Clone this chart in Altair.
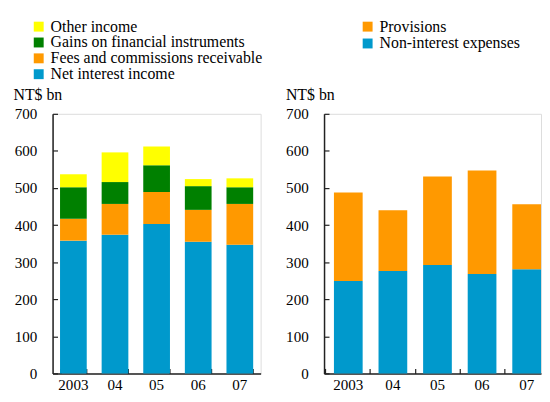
import altair as alt
import pandas as pd

years = ["2003", "04", "05", "06", "07"]

# Left panel: income components (NT$ bn)
net_interest_income = [358, 374, 403, 355, 347]
fees_commissions = [59, 83, 86, 86, 110]
gains_fin_instr = [85, 59, 72, 64, 45]
other_income = [35, 80, 51, 19, 24]

# Right panel: expenses (NT$ bn)
non_interest_expenses = [249, 276, 292, 268, 281]
provisions = [239, 164, 239, 279, 175]

left_series = ["Other income", "Gains on financial instruments",
               "Fees and commissions receivable", "Net interest income"]
left_colors = ["#FFFF00", "#008000", "#FF9900", "#0099CC"]
right_series = ["Provisions", "Non-interest expenses"]
right_colors = ["#FF9900", "#0099CC"]

FONT = "Liberation Serif"
FS = 15.2
LFS = 16
H = 262

rows = []
for i, y in enumerate(years):
    rows.append({"year": y, "series": "Net interest income", "value": net_interest_income[i], "k": 0})
    rows.append({"year": y, "series": "Fees and commissions receivable", "value": fees_commissions[i], "k": 1})
    rows.append({"year": y, "series": "Gains on financial instruments", "value": gains_fin_instr[i], "k": 2})
    rows.append({"year": y, "series": "Other income", "value": other_income[i], "k": 3})
df_left = pd.DataFrame(rows)

rows = []
for i, y in enumerate(years):
    rows.append({"year": y, "series": "Non-interest expenses", "value": non_interest_expenses[i], "k": 0})
    rows.append({"year": y, "series": "Provisions", "value": provisions[i], "k": 1})
df_right = pd.DataFrame(rows)

yvals = [0, 100, 200, 300, 400, 500, 600, 700]


def panel(df, series, colors, W, xscale, tick_axis_opts, legend_x, legend_y, row_pad, title_x):
    yscale = alt.Scale(domain=[0, 700], nice=False)
    bars = alt.Chart(df).mark_bar().encode(
        x=alt.X("year:N", sort=years, scale=xscale,
                axis=alt.Axis(title=None, labelAngle=0, ticks=False, tickSize=0,
                              labelPadding=16, labelBaseline="alphabetic",
                              labelFont=FONT, labelFontSize=FS,
                              labelColor="#000", domainColor="#222", domainWidth=1.5,
                              grid=False)),
        y=alt.Y("value:Q", stack="zero", scale=yscale,
                axis=alt.Axis(values=yvals, title="NT$ bn", titleAngle=0,
                              titleAlign="left", titleBaseline="alphabetic",
                              titleX=title_x, titleY=-14, titleFont=FONT,
                              titleFontSize=LFS, titleFontWeight="normal",
                              titleColor="#000", ticks=False, tickSize=0,
                              labelPadding=16, labelFont=FONT, labelFontSize=FS,
                              labelColor="#000", domainColor="#222",
                              domainWidth=1.5, grid=False)),
        color=alt.Color("series:N", scale=alt.Scale(domain=series, range=colors),
                        legend=alt.Legend(title=None, orient="none",
                                          legendX=legend_x, legendY=legend_y,
                                          symbolType="square", symbolSize=100,
                                          symbolStrokeWidth=0, symbolOpacity=1,
                                          labelFont=FONT, labelFontSize=LFS,
                                          labelColor="#000", labelOffset=4,
                                          rowPadding=row_pad, padding=0,
                                          labelLimit=400)),
        order=alt.Order("k:Q", sort="ascending"),
    )
    ticks = alt.Chart(df).mark_bar(opacity=0).encode(
        x=alt.X("year:N", sort=years, scale=xscale,
                axis=alt.Axis(orient="top", offset=-H, title=None, labels=False,
                              domain=False, ticks=True, tickSize=5,
                              tickColor="#222", tickWidth=1.2, grid=False,
                              **tick_axis_opts)),
        y=alt.Y("sum(value):Q", scale=yscale,
                axis=alt.Axis(orient="right", offset=-W, title=None, labels=False,
                              domain=False, ticks=True, values=yvals, tickSize=5,
                              tickColor="#222", tickWidth=1.2, grid=False)),
    )
    return alt.layer(bars, ticks).resolve_axis(x="independent", y="independent").properties(
        width=W, height=H)


left_scale = alt.Scale(domain=years, paddingInner=0.358, paddingOuter=0.179)
right_scale = alt.Scale(domain=years, paddingInner=0.356, paddingOuter=0.111, align=1)

left = panel(df_left, left_series, left_colors, 210, left_scale, {"tickBand": "extent"},
             -22, -96, -3.5, -40)
right = panel(df_right, right_series, right_colors, 219, right_scale, {"bandPosition": -0.276},
              36, -96, 1, -39)

chart = alt.hconcat(left, right, spacing=21).resolve_scale(color="independent").properties(
    padding={"left": 4, "top": 8, "right": 0, "bottom": 0}
).configure_view(stroke=None).configure(font=FONT)

chart.save("out.html", embed_options={"renderer": "svg", "actions": False})
